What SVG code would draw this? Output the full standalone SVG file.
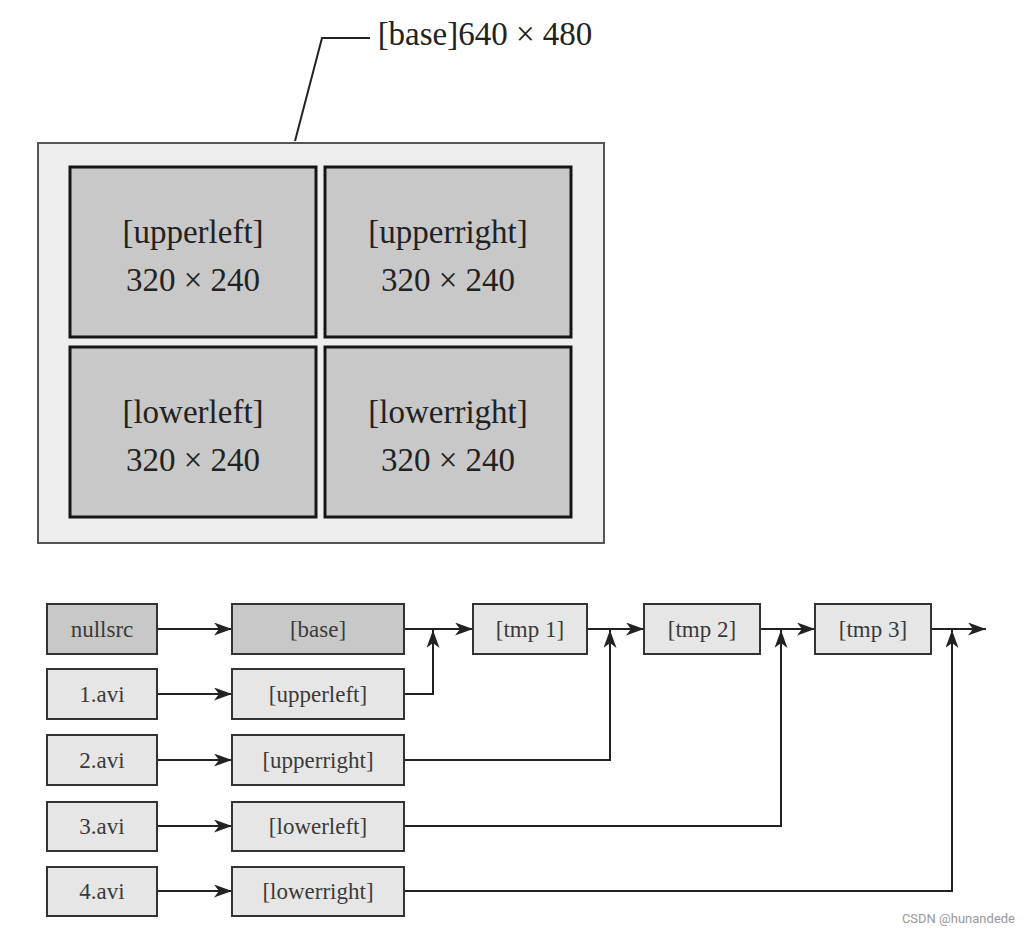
<svg xmlns="http://www.w3.org/2000/svg" width="1030" height="934" viewBox="0 0 1030 934">
<style>
.big{font-family:"Liberation Serif","Times New Roman",serif;font-size:33px;fill:#222;text-anchor:middle}
.sm{font-family:"Liberation Serif","Times New Roman",serif;font-size:23px;fill:#3a3a3a;text-anchor:middle}
.tile{fill:#c8c8c8;stroke:#161616;stroke-width:3}
.boxL{fill:#e6e6e6;stroke:#333;stroke-width:2}
.boxD{fill:#c8c8c8;stroke:#333;stroke-width:2}
.ln{fill:none;stroke:#222;stroke-width:2}
</style>
<defs>
<marker id="ah" viewBox="0 0 18 13" refX="18" refY="6.5" markerWidth="18" markerHeight="13" markerUnits="userSpaceOnUse" orient="auto">
<path d="M0,0 L18,6.5 L0,13 L5,6.5 Z" fill="#222"/>
</marker>
</defs>
<rect width="1030" height="934" fill="#ffffff"/>
<g id="base-label">
<polyline class="ln" points="370,38 322,38 295,141"/>
<text class="big" x="485" y="45">[base]640 × 480</text>
</g>
<g id="base-canvas">
<rect x="38" y="143" width="566" height="400" fill="#eeeeee" stroke="#555" stroke-width="2"/>
</g>
<g id="tile-upperleft">
<rect class="tile" x="70" y="167" width="246" height="170"/>
<text class="big" x="193" y="243">[upperleft]</text>
<text class="big" x="193" y="291">320 × 240</text>
</g>
<g id="tile-upperright">
<rect class="tile" x="325" y="167" width="246" height="170"/>
<text class="big" x="448" y="243">[upperright]</text>
<text class="big" x="448" y="291">320 × 240</text>
</g>
<g id="tile-lowerleft">
<rect class="tile" x="70" y="347" width="246" height="170"/>
<text class="big" x="193" y="423">[lowerleft]</text>
<text class="big" x="193" y="471">320 × 240</text>
</g>
<g id="tile-lowerright">
<rect class="tile" x="325" y="347" width="246" height="170"/>
<text class="big" x="448" y="423">[lowerright]</text>
<text class="big" x="448" y="471">320 × 240</text>
</g>
<g id="connectors">
<line class="ln" x1="157" y1="629" x2="232" y2="629" marker-end="url(#ah)"/>
<line class="ln" x1="157" y1="694" x2="232" y2="694" marker-end="url(#ah)"/>
<line class="ln" x1="157" y1="760" x2="232" y2="760" marker-end="url(#ah)"/>
<line class="ln" x1="157" y1="826" x2="232" y2="826" marker-end="url(#ah)"/>
<line class="ln" x1="157" y1="891" x2="232" y2="891" marker-end="url(#ah)"/>
<line class="ln" x1="404" y1="629" x2="473" y2="629" marker-end="url(#ah)"/>
<line class="ln" x1="587" y1="629" x2="644" y2="629" marker-end="url(#ah)"/>
<line class="ln" x1="760" y1="629" x2="815" y2="629" marker-end="url(#ah)"/>
<line class="ln" x1="931" y1="629" x2="986" y2="629" marker-end="url(#ah)"/>
<polyline class="ln" points="404,694 433,694 433,630" marker-end="url(#ah)"/>
<polyline class="ln" points="404,760 610,760 610,630" marker-end="url(#ah)"/>
<polyline class="ln" points="404,826 781,826 781,630" marker-end="url(#ah)"/>
<polyline class="ln" points="404,891 952,891 952,630" marker-end="url(#ah)"/>
</g>
<g id="nullsrc"><rect class="boxD" x="47" y="604" width="110" height="50"/><text class="sm" x="102" y="637">nullsrc</text></g>
<g id="avi1"><rect class="boxL" x="47" y="669" width="110" height="50"/><text class="sm" x="102" y="702">1.avi</text></g>
<g id="avi2"><rect class="boxL" x="47" y="735" width="110" height="50"/><text class="sm" x="102" y="768">2.avi</text></g>
<g id="avi3"><rect class="boxL" x="47" y="802" width="110" height="49"/><text class="sm" x="102" y="834">3.avi</text></g>
<g id="avi4"><rect class="boxL" x="47" y="867" width="110" height="49"/><text class="sm" x="102" y="899">4.avi</text></g>
<g id="base"><rect class="boxD" x="232" y="604" width="172" height="50"/><text class="sm" x="318" y="637">[base]</text></g>
<g id="upperleft"><rect class="boxL" x="232" y="669" width="172" height="50"/><text class="sm" x="318" y="702">[upperleft]</text></g>
<g id="upperright"><rect class="boxL" x="232" y="735" width="172" height="50"/><text class="sm" x="318" y="768">[upperright]</text></g>
<g id="lowerleft"><rect class="boxL" x="232" y="802" width="172" height="49"/><text class="sm" x="318" y="834">[lowerleft]</text></g>
<g id="lowerright"><rect class="boxL" x="232" y="867" width="172" height="49"/><text class="sm" x="318" y="899">[lowerright]</text></g>
<g id="tmp1"><rect class="boxL" x="473" y="604" width="114" height="50"/><text class="sm" x="530" y="637">[tmp 1]</text></g>
<g id="tmp2"><rect class="boxL" x="644" y="604" width="116" height="50"/><text class="sm" x="702" y="637">[tmp 2]</text></g>
<g id="tmp3"><rect class="boxL" x="815" y="604" width="116" height="50"/><text class="sm" x="873" y="637">[tmp 3]</text></g>
<g id="watermark"><text x="1015" y="923" font-family="Roboto,'Liberation Sans',sans-serif" font-size="13" fill="#999" text-anchor="end">CSDN @hunandede</text></g>
</svg>
